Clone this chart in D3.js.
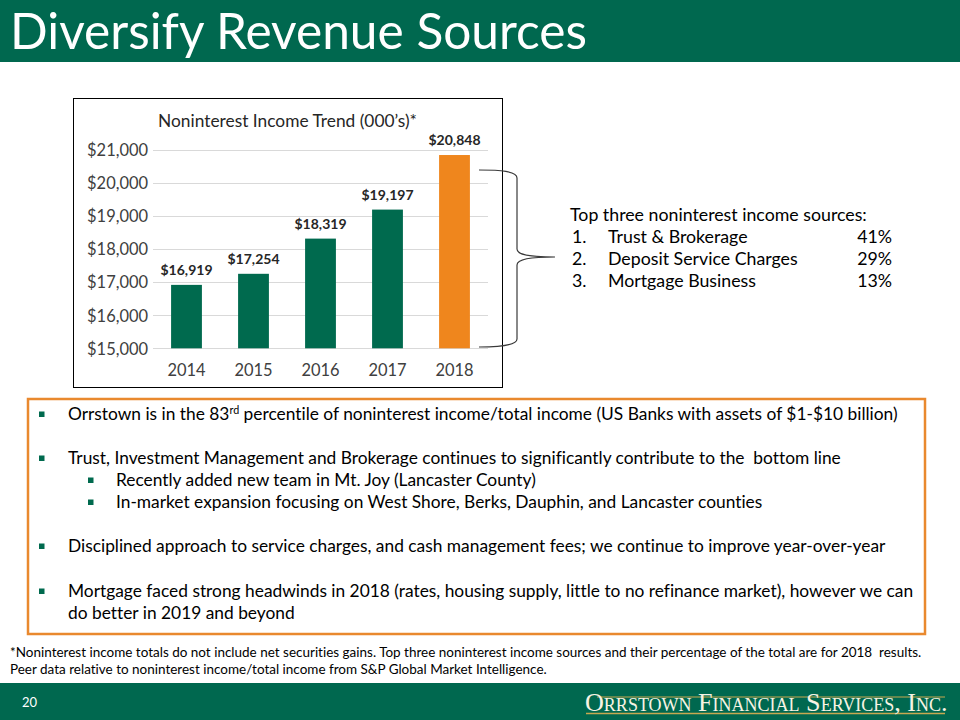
<!DOCTYPE html>
<html><head><meta charset="utf-8">
<script src="https://cdn.jsdelivr.net/npm/d3@7"></script>
<style>
html,body{margin:0;padding:0;background:#fff;}
svg text{white-space:pre;font-variant-ligatures:none;font-feature-settings:"liga" 0,"clig" 0;}
</style>
</head><body>
<svg id="s" width="960" height="720"></svg>
<script>
// ---- data ----
const years = ["2014", "2015", "2016", "2017", "2018"];
const income = [16919, 17254, 18319, 19197, 20848];
const yTicks = [15000, 16000, 17000, 18000, 19000, 20000, 21000];
const sourceNames = ["Trust & Brokerage", "Deposit Service Charges", "Mortgage Business"];
const sourcePcts = ["41%", "29%", "13%"];
const bulletLevels = [1, 1, 2, 2, 1, 1, 0];
const bulletTexts = [
  ["Orrstown is in the 83", "rd", " percentile of noninterest income/total income (US Banks with assets of $1-$10 billion)"],
  ["Trust, Investment Management and Brokerage continues to significantly contribute to the  bottom line"],
  ["Recently added new team in Mt. Joy (Lancaster County)"],
  ["In-market expansion focusing on West Shore, Berks, Dauphin, and Lancaster counties"],
  ["Disciplined approach to service charges, and cash management fees; we continue to improve year-over-year"],
  ["Mortgage faced strong headwinds in 2018 (rates, housing supply, little to no refinance market), however we can"],
  ["do better in 2019 and beyond"]
];
const footnotes = [
  "*Noninterest income totals do not include net securities gains. Top three noninterest income sources and their percentage of the total are for 2018  results.",
  "Peer data relative to noninterest income/total income from S&P Global Market Intelligence."
];

// ---- styles ----
const GREEN = "#00684F", BAR_GREEN = "#006A4E", ORANGE = "#EF861D", BOX_ORANGE = "#E9892E";
const FONT = "Lato, 'Open Sans', sans-serif";
const svg = d3.select("#s");

function fitTo(sel, target) {
  const w = sel.node().getComputedTextLength();
  const fs = parseFloat(sel.attr("font-size"));
  const nfs = fs * target / w;
  sel.attr("font-size", nfs);
  return nfs / fs;
}

// ---- title bar ----
svg.append("rect").attr("x", 0).attr("y", 0).attr("width", 960).attr("height", 62).attr("fill", GREEN);
const title = svg.append("text").attr("x", 10).attr("y", 49).attr("fill", "#fff")
  .attr("font-family", FONT).attr("font-size", 44).text("Diversify Revenue Sources");
fitTo(title, 577);

// ---- chart frame ----
svg.append("rect").attr("x", 73.5).attr("y", 98.5).attr("width", 429).attr("height", 289)
  .attr("fill", "#fff").attr("stroke", "#000").attr("stroke-width", 1);

const x = d3.scaleBand().domain(years).range([153, 488]).paddingInner(0.54).paddingOuter(0.27);
const y = d3.scaleLinear().domain([15000, 21000]).range([348.3, 150]);

// gridlines
const g = svg.append("g");
g.selectAll("line.grid").data(yTicks).join("line")
  .attr("x1", 153).attr("x2", 488)
  .attr("y1", d => Math.round(y(d)) + 0.5).attr("y2", d => Math.round(y(d)) + 0.5)
  .attr("stroke", "#D9D9D9").attr("stroke-width", 1);

// y axis labels
const yAxis = d3.axisLeft(y).tickValues(yTicks).tickSize(0).tickPadding(0)
  .tickFormat(d => "$" + d3.format(",")(d));
const ya = svg.append("g").attr("transform", "translate(148,0)").call(yAxis);
ya.select(".domain").remove();
ya.selectAll("text").attr("font-family", FONT).attr("font-size", 14).attr("fill", "#404040").attr("dy", "0.35em");
const yr = fitTo(ya.select("text:last-of-type"), 61);
ya.selectAll("text").attr("font-size", 14 * yr);

// x axis labels
const xAxis = d3.axisBottom(x).tickSize(0).tickPadding(0);
const xa = svg.append("g").attr("transform", "translate(0,364)").call(xAxis);
xa.select(".domain").remove();
xa.selectAll("text").attr("font-family", FONT).attr("font-size", 14 * yr).attr("fill", "#404040").attr("dy", "0.71em");

// bars
g.selectAll("rect.bar").data(income).join("rect").attr("class", "bar")
  .attr("x", (d, i) => x(years[i])).attr("width", x.bandwidth())
  .attr("y", d => y(d)).attr("height", d => y(15000) - y(d))
  .attr("fill", (d, i) => i === income.length - 1 ? ORANGE : BAR_GREEN);

// value labels
const vl = g.selectAll("text.val").data(income).join("text").attr("class", "val")
  .attr("x", (d, i) => x(years[i]) + x.bandwidth() / 2).attr("y", d => y(d) - 10)
  .attr("text-anchor", "middle").attr("font-family", FONT).attr("font-weight", "bold")
  .attr("font-size", 14).attr("fill", "#262626")
  .text(d => "$" + d3.format(",")(d));
const vr = fitTo(d3.select(vl.nodes()[0]), 52);
vl.attr("font-size", 14 * vr);

// chart title
const ct = svg.append("text").attr("x", 287.5).attr("y", 127).attr("text-anchor", "middle")
  .attr("font-family", FONT).attr("font-size", 16).attr("fill", "#262626")
  .text("Noninterest Income Trend (000\u2019s)*");
fitTo(ct, 259);

// brace
svg.append("path")
  .attr("d", "M479,170 C500,170 517,171 517,178 L517,249 C517,255 530,257 555,257 C530,257 517,259 517,265 L517,339 C517,345 500,347 479,347")
  .attr("fill", "none").attr("stroke", "#3a3a3a").attr("stroke-width", 1.2);

// top three sources
const st = svg.append("text").attr("x", 570).attr("y", 221).attr("font-family", FONT)
  .attr("font-size", 16).attr("fill", "#000").text("Top three noninterest income sources:");
const sr = fitTo(st, 297);
const sfs = 16 * sr;
sourceNames.forEach((n, i) => {
  const yy = 243 + i * 22;
  svg.append("text").attr("x", 572).attr("y", yy).attr("font-family", FONT).attr("font-size", sfs).text((i + 1) + ".");
  svg.append("text").attr("x", 608).attr("y", yy).attr("font-family", FONT).attr("font-size", sfs).text(n);
  svg.append("text").attr("x", 892).attr("y", yy).attr("text-anchor", "end").attr("font-family", FONT).attr("font-size", sfs).text(sourcePcts[i]);
});

// bullet box
svg.append("rect").attr("x", 28).attr("y", 399).attr("width", 897).attr("height", 235)
  .attr("fill", "none").attr("stroke", BOX_ORANGE).attr("stroke-width", 2.5);

const bulletY = [420, 464, 486, 508, 552, 597, 619];
const bfs0 = 16;
const btexts = [];
bulletTexts.forEach((parts, i) => {
  const lvl = bulletLevels[i];
  const tx = lvl === 2 ? 116 : 68;
  const t = svg.append("text").attr("x", tx).attr("y", bulletY[i]).attr("font-family", FONT)
    .attr("font-size", bfs0).attr("fill", "#000");
  if (parts.length === 3) {
    t.append("tspan").text(parts[0]);
    t.append("tspan").attr("class", "sup").attr("dy", -6).attr("font-size", bfs0 * 0.62).text(parts[1]);
    t.append("tspan").attr("dy", 6).text(parts[2]);
  } else {
    t.text(parts[0]);
  }
  btexts.push(t);
  if (lvl > 0) {
    const bx = lvl === 2 ? 88 : 39;
    svg.append("rect").attr("x", bx).attr("y", bulletY[i] - 8.5).attr("width", 5.5).attr("height", 5.5).attr("fill", BAR_GREEN);
  }
});
const br = btexts[0].node().getComputedTextLength();
const bscale = 830 / br;
btexts.forEach(t => {
  t.attr("font-size", bfs0 * bscale);
  t.selectAll("tspan.sup").attr("font-size", bfs0 * bscale * 0.62);
});

// footnotes
const fts = footnotes.map((f, i) => svg.append("text").attr("x", 10).attr("y", 657 + i * 17)
  .attr("font-family", FONT).attr("font-size", 12).attr("fill", "#000").text(f));
const fr = fitTo(fts[0], 912);
fts[1].attr("font-size", 12 * fr);

// footer
svg.append("rect").attr("x", 0).attr("y", 683).attr("width", 960).attr("height", 37).attr("fill", GREEN);
svg.append("text").attr("x", 22).attr("y", 707).attr("font-family", FONT).attr("font-size", 13).attr("fill", "#fff").text("20");
svg.append("line").attr("x1", 597).attr("x2", 945).attr("y1", 697).attr("y2", 697).attr("stroke", "#C8A850").attr("stroke-width", 1.2);
svg.append("line").attr("x1", 586).attr("x2", 945).attr("y1", 713.5).attr("y2", 713.5).attr("stroke", "#C8A850").attr("stroke-width", 1.5);
const logo = svg.append("text").attr("x", 585).attr("y", 711).attr("font-family", "'Liberation Serif', 'DejaVu Serif', serif")
  .attr("font-size", 22).attr("font-variant", "small-caps").attr("fill", "#F7F3E3")
  .text("Orrstown Financial Services, Inc.");
fitTo(logo, 360);
</script>
</body></html>
